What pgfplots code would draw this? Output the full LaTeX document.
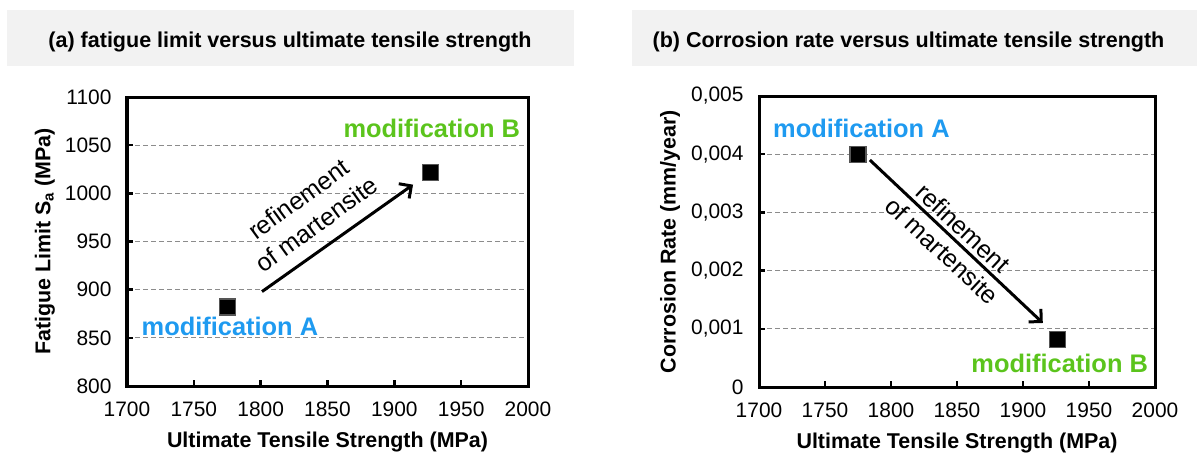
\documentclass[border=0pt]{standalone}
\usepackage{pgfplots}
\pgfplotsset{compat=1.18}
\usepackage{fontspec}
\setmainfont{Liberation Sans}
\usetikzlibrary{arrows.meta}
\definecolor{modA}{HTML}{1E9AF0}
\definecolor{modB}{HTML}{5BC41C}
\definecolor{titlebg}{HTML}{F2F2F2}
\definecolor{gridc}{HTML}{8C8C8C}
\definecolor{markedge}{HTML}{555555}

\pgfplotsset{
  myaxis/.style={
    scale only axis, clip=false,
    xmin=1700, xmax=2000, xtick={1700,1750,...,2000},
    axis line style={line width=3bp},
    every tick/.style={line width=2.5bp, black},
    major tick length=6bp,
    tick align=inside,
    tick pos=left,
    ymajorgrids,
    grid style={gridc, line width=1bp, dash pattern=on 5bp off 3bp},
    tick label style={font=\fontsize{21}{21}\selectfont},
    xticklabel style={yshift=-12bp},
    yticklabel style={xshift=-12bp},
    label style={font=\bfseries\fontsize{21.5}{21.5}\selectfont},
    /pgf/number format/assume math mode=true,
    /pgf/number format/1000 sep={},
    scaled y ticks=false,
  },
  pt/.style={only marks, mark=square*, mark size=8bp,
    mark options={fill=black, draw=markedge, line width=1.2bp}},
}
\tikzset{
  arr/.style={line width=3bp, -{Straight Barb[length=9bp,width=18bp]}},
  modlab/.style={font=\bfseries\fontsize{25.5}{25.5}\selectfont},
  refl/.style={align=center, font=\fontsize{25}{31}\selectfont},
}

\begin{document}
\begin{tikzpicture}
\useasboundingbox (0,0) rectangle (1197bp,-454bp);
\fill[titlebg] (7bp,-10bp) rectangle (574bp,-66bp);
\fill[titlebg] (632bp,-10bp) rectangle (1197bp,-66bp);
\node[anchor=base, font=\bfseries\fontsize{21.6}{21.6}\selectfont] at (290bp,-47.5bp)
  {(a) fatigue limit versus ultimate tensile strength};
\node[anchor=base, font=\bfseries\fontsize{21.6}{21.6}\selectfont] at (908.5bp,-47.5bp)
  {(b) Corrosion rate versus ultimate tensile strength};

% (a)
\begin{axis}[myaxis,
  at={(127bp,-386bp)}, anchor=south west,
  width=401bp, height=289bp,
  ymin=800, ymax=1100, ytick={800,850,...,1100},
  xlabel={Ultimate Tensile Strength (MPa)},
  ylabel={Fatigue Limit S\textsubscript{a} (MPa)},
  xlabel style={at={(axis description cs:0.5,-0.2145)}, anchor=base},
  ylabel style={at={(axis description cs:-0.2045,0.5)}, anchor=center},
]
\addplot[pt] coordinates {(1775,882) (1927,1022)};
\draw[arr] (axis cs:1801,898) -- (axis cs:1914,1009);
\node[refl, rotate=36] at (axis cs:1835,981) {refinement\\of martensite};
\node[modlab, text=modA] at (axis cs:1777,862) {modification A};
\node[modlab, text=modB] at (axis cs:1928,1067) {modification B};
\end{axis}

% (b)
\begin{axis}[myaxis,
  at={(759bp,-387bp)}, anchor=south west,
  width=396bp, height=291bp,
  ymin=0, ymax=0.005, ytick={0,0.001,0.002,0.003,0.004,0.005},
  yticklabel style={/pgf/number format/.cd, fixed, precision=3, use comma},
  xlabel={Ultimate Tensile Strength (MPa)},
  ylabel={Corrosion Rate (mm/year)},
  xlabel style={at={(axis description cs:0.5,-0.213)}, anchor=base},
  ylabel style={at={(axis description cs:-0.2247,0.5)}, anchor=center},
]
\addplot[pt] coordinates {(1775,0.004) (1926,0.00082)};
\draw[arr] (axis cs:1784,0.0039) -- (axis cs:1915,0.0011);
\node[refl, rotate=-43] at (axis cs:1846.7,0.002537) {refinement\\of martensite};
\node[modlab, text=modA] at (axis cs:1777.6,0.00444) {modification A};
\node[modlab, text=modB] at (axis cs:1927.8,0.000405) {modification B};
\end{axis}
\end{tikzpicture}
\end{document}
